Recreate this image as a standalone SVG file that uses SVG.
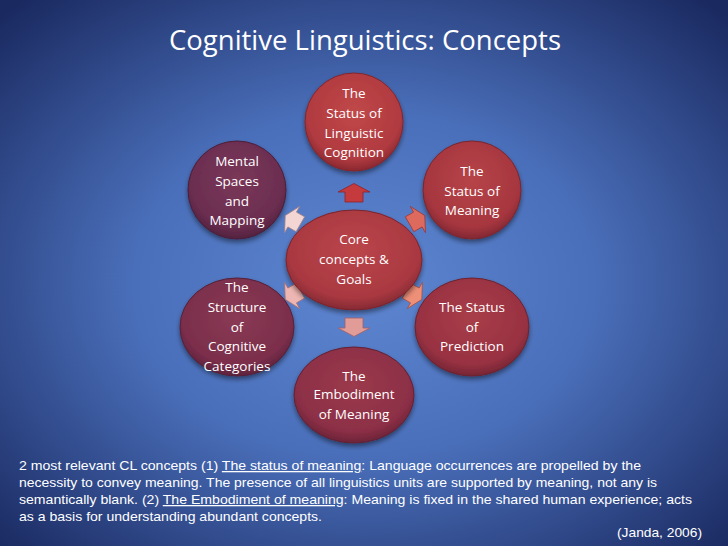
<svg xmlns="http://www.w3.org/2000/svg" width="728" height="546" viewBox="0 0 728 546">
<defs>
<radialGradient id="bg" cx="50%" cy="52%" r="70%">
<stop offset="0" stop-color="#5e86d1"/>
<stop offset="0.45" stop-color="#4a6fba"/>
<stop offset="1" stop-color="#1a2960"/>
</radialGradient>
<radialGradient id="gTop" cx="50%" cy="40%" r="60%"><stop offset="0" stop-color="#c04848"/><stop offset="0.8" stop-color="#b03a40"/><stop offset="1" stop-color="#8a2830"/></radialGradient>
<radialGradient id="gTR" cx="50%" cy="40%" r="60%"><stop offset="0" stop-color="#b64448"/><stop offset="0.8" stop-color="#a6363f"/><stop offset="1" stop-color="#822832"/></radialGradient>
<radialGradient id="gBR" cx="50%" cy="40%" r="60%"><stop offset="0" stop-color="#a83e48"/><stop offset="0.8" stop-color="#983142"/><stop offset="1" stop-color="#762634"/></radialGradient>
<radialGradient id="gB" cx="50%" cy="40%" r="60%"><stop offset="0" stop-color="#9c3a4c"/><stop offset="0.8" stop-color="#8c2f46"/><stop offset="1" stop-color="#6c2438"/></radialGradient>
<radialGradient id="gBL" cx="50%" cy="40%" r="60%"><stop offset="0" stop-color="#8a3a54"/><stop offset="0.8" stop-color="#7b2e4b"/><stop offset="1" stop-color="#5e233c"/></radialGradient>
<radialGradient id="gTL" cx="50%" cy="40%" r="60%"><stop offset="0" stop-color="#7a3858"/><stop offset="0.8" stop-color="#6b2d50"/><stop offset="1" stop-color="#52223e"/></radialGradient>
<radialGradient id="gC" cx="50%" cy="40%" r="60%"><stop offset="0" stop-color="#bb464a"/><stop offset="0.8" stop-color="#a93841"/><stop offset="1" stop-color="#842a33"/></radialGradient>
<filter id="sh" x="-20%" y="-20%" width="140%" height="150%">
<feGaussianBlur in="SourceAlpha" stdDeviation="2.5"/>
<feOffset dy="3" result="b"/>
<feComponentTransfer><feFuncA type="linear" slope="0.45"/></feComponentTransfer>
<feMerge><feMergeNode/><feMergeNode in="SourceGraphic"/></feMerge>
</filter>
<path id="arr" d="M -9,9 L 9,9 L 9,-1 L 16,-1 L 0,-9.5 L -16,-1 L -9,-1 Z"/>
</defs>
<style>
.t{font-family:"Open Sans","Liberation Sans",sans-serif;fill:#ffffff;font-size:13.5px;text-anchor:middle}
.b{font-family:"Liberation Sans",Arial,sans-serif;fill:#ffffff;font-size:12.8px}
.node ellipse{stroke-width:1;filter:url(#sh)}
.ar use{stroke-width:0.8}
</style>
<rect x="0" y="0" width="728" height="546" fill="url(#bg)"/>
<text x="169" y="50" textLength="392" lengthAdjust="spacingAndGlyphs" style="font-family:'Open Sans','Liberation Sans',sans-serif;font-size:28px;fill:#ffffff">Cognitive Linguistics: Concepts</text>

<g id="connectors" class="ar">
<use href="#arr" transform="translate(354,193)" fill="#c53a3c" stroke="#8e2228"/>
<use href="#arr" transform="translate(417,220) rotate(60) scale(0.95)" fill="#de6a5e" stroke="#9a3a38"/>
<use href="#arr" transform="translate(414,295) rotate(120) scale(0.95)" fill="#ee8f78" stroke="#a05048"/>
<use href="#arr" transform="translate(354,327) rotate(180)" fill="#e19c98" stroke="#a06068"/>
<use href="#arr" transform="translate(293,295) rotate(240) scale(0.95)" fill="#eeb6b2" stroke="#a07078"/>
<use href="#arr" transform="translate(293,220) rotate(300) scale(0.95)" fill="#f3d6d4" stroke="#9a8088"/>
</g>

<g id="node-center" class="node">
<ellipse cx="354" cy="260" rx="68" ry="50" fill="url(#gC)" stroke="#7a242c"/>
<text class="t" x="354" y="244">Core</text>
<text class="t" x="354" y="264">concepts &amp;</text>
<text class="t" x="354" y="284">Goals</text>
</g>
<g id="node-linguistic-cognition" class="node">
<ellipse cx="354" cy="122" rx="49" ry="49" fill="url(#gTop)" stroke="#82262c"/>
<text class="t" x="354" y="98">The</text>
<text class="t" x="354" y="118">Status of</text>
<text class="t" x="354" y="138">Linguistic</text>
<text class="t" x="354" y="157">Cognition</text>
</g>
<g id="node-meaning" class="node">
<ellipse cx="472" cy="190" rx="49" ry="49" fill="url(#gTR)" stroke="#78252e"/>
<text class="t" x="472" y="176">The</text>
<text class="t" x="472" y="196">Status of</text>
<text class="t" x="472" y="215">Meaning</text>
</g>
<g id="node-prediction" class="node">
<ellipse cx="472" cy="327" rx="57" ry="49" fill="url(#gBR)" stroke="#6c2230"/>
<text class="t" x="472" y="312">The Status</text>
<text class="t" x="472" y="332">of</text>
<text class="t" x="472" y="351">Prediction</text>
</g>
<g id="node-embodiment" class="node">
<ellipse cx="354" cy="395" rx="60" ry="48" fill="url(#gB)" stroke="#622034"/>
<text class="t" x="354" y="381">The</text>
<text class="t" x="354" y="399">Embodiment</text>
<text class="t" x="354" y="419">of Meaning</text>
</g>
<g id="node-categories" class="node">
<ellipse cx="237" cy="327" rx="57" ry="49" fill="url(#gBL)" stroke="#552038"/>
<text class="t" x="237" y="292">The</text>
<text class="t" x="237" y="312">Structure</text>
<text class="t" x="237" y="332">of</text>
<text class="t" x="237" y="351">Cognitive</text>
<text class="t" x="237" y="371">Categories</text>
</g>
<g id="node-mental-spaces" class="node">
<ellipse cx="237" cy="190" rx="49" ry="49" fill="url(#gTL)" stroke="#4a1f3a"/>
<text class="t" x="237" y="166">Mental</text>
<text class="t" x="237" y="186">Spaces</text>
<text class="t" x="237" y="206">and</text>
<text class="t" x="237" y="225">Mapping</text>
</g>

<g id="caption">
<text class="b" x="19" y="470" textLength="622" lengthAdjust="spacingAndGlyphs">2 most relevant CL concepts (1) <tspan text-decoration="underline">The status of meaning</tspan>: Language occurrences are propelled by the</text>
<text class="b" x="19" y="487" textLength="638" lengthAdjust="spacingAndGlyphs">necessity to convey meaning. The presence of all linguistics units are supported by meaning, not any is</text>
<text class="b" x="19" y="504" textLength="673" lengthAdjust="spacingAndGlyphs">semantically blank. (2) <tspan text-decoration="underline">The Embodiment of meaning</tspan>: Meaning is fixed in the shared human experience; acts</text>
<text class="b" x="19" y="521" textLength="303" lengthAdjust="spacingAndGlyphs">as a basis for understanding abundant concepts.</text>
<text class="b" x="617" y="537" textLength="85" lengthAdjust="spacingAndGlyphs">(Janda, 2006)</text>
</g>
</svg>
